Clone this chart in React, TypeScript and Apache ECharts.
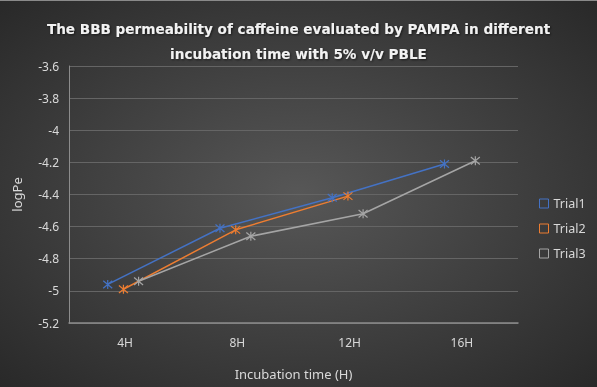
import React, { useEffect, useRef } from "react";
import * as echarts from "echarts";

const categories = ["4H", "8H", "12H", "16H"];
const seriesNames = ["Trial1", "Trial2", "Trial3"];
const trial1 = [-4.96, -4.61, -4.42, -4.21];
const trial2 = [-4.99, -4.62, -4.41];
const trial3 = [-4.94, -4.66, -4.52, -4.19];
const xOffsets = [-0.155, -0.015, 0.12];
const colors = ["#4472C4", "#ED7D31", "#A5A5A5"];
const titleText =
  "The BBB permeability of caffeine evaluated by PAMPA in different\nincubation time with 5% v/v PBLE";

const starPath = "path://M0,0L10,10M10,0L0,10M5,-1L5,11";

export default function App() {
  const ref = useRef<HTMLDivElement>(null);
  useEffect(() => {
    if (!ref.current) return;
    const chart = echarts.init(ref.current, undefined, { renderer: "svg" });
    const all = [trial1, trial2, trial3];
    const series = all.map((vals, si) => ({
      name: seriesNames[si],
      type: "line",
      xAxisIndex: 1,
      yAxisIndex: 0,
      data: vals.map((v, i) => [i + 0.5 + xOffsets[si], v]),
      symbol: starPath,
      symbolSize: 9,
      lineStyle: { color: colors[si], width: 1.5 },
      itemStyle: { color: colors[si], borderColor: colors[si], borderWidth: 1.2 },
    }));
    chart.setOption({
      animation: false,
      backgroundColor: new echarts.graphic.RadialGradient(0.5, 0.5, 0.75, [
        { offset: 0, color: "#575757" },
        { offset: 1, color: "#262626" },
      ]),
      title: {
        text: titleText,
        left: "center",
        top: 10,
        textStyle: {
          color: "#f2f2f2",
          fontFamily: "DejaVu Sans",
          fontWeight: "bold",
          fontSize: 13.6,
          lineHeight: 25,
          textShadowColor: "rgba(0,0,0,0.6)",
          textShadowBlur: 2,
          textShadowOffsetX: 1,
          textShadowOffsetY: 1,
        },
      },
      legend: {
        orient: "vertical",
        left: 534,
        top: 191,
        itemWidth: 9,
        itemHeight: 9,
        itemGap: 12,
        icon: "rect",
        data: seriesNames.map((n, i) => ({
          name: n,
          itemStyle: { color: "transparent", borderColor: colors[i], borderWidth: 1 },
        })),
        textStyle: { color: "#d9d9d9", fontSize: 12.5, fontFamily: "Noto Sans" },
      },
      grid: { left: 69, right: 79, top: 65, bottom: 64 },
      xAxis: [
        {
          type: "category",
          data: categories,
          boundaryGap: true,
          axisLine: { lineStyle: { color: "#8c8c8c", width: 1.5 } },
          axisTick: { show: false },
          axisLabel: { color: "#d9d9d9", fontSize: 12, margin: 13, fontFamily: "Noto Sans" },
          name: "Incubation time (H)",
          nameLocation: "middle",
          nameGap: 44,
          nameTextStyle: { color: "#d9d9d9", fontSize: 13, fontFamily: "Noto Sans" },
          splitLine: { show: false },
        },
        {
          type: "value",
          min: 0,
          max: 4,
          show: false,
          splitLine: { show: false },
        },
      ],
      yAxis: {
        type: "value",
        min: -5.2,
        max: -3.6,
        interval: 0.2,
        axisLine: { show: true, lineStyle: { color: "#8c8c8c", width: 1 } },
        axisTick: { show: false },
        axisLabel: {
          color: "#d9d9d9",
          fontSize: 12,
          margin: 10,
          fontFamily: "Noto Sans",
          formatter: (v: number) => {
            let s = v.toFixed(1);
            if (s.endsWith(".0")) s = s.slice(0, -2);
            return s;
          },
        },
        splitLine: { lineStyle: { color: "#656565", width: 1 } },
        name: "logPe",
        nameLocation: "middle",
        nameGap: 46,
        nameRotate: 90,
        nameTextStyle: { color: "#d9d9d9", fontSize: 13, fontFamily: "Noto Sans" },
      },
      series,
    });
    return () => chart.dispose();
  }, []);
  return (
    <div
      ref={ref}
      style={{ position: "fixed", left: 0, top: 0, width: 597, height: 387, borderTop: "1px solid #8a8a8a", boxSizing: "border-box" }}
    />
  );
}
